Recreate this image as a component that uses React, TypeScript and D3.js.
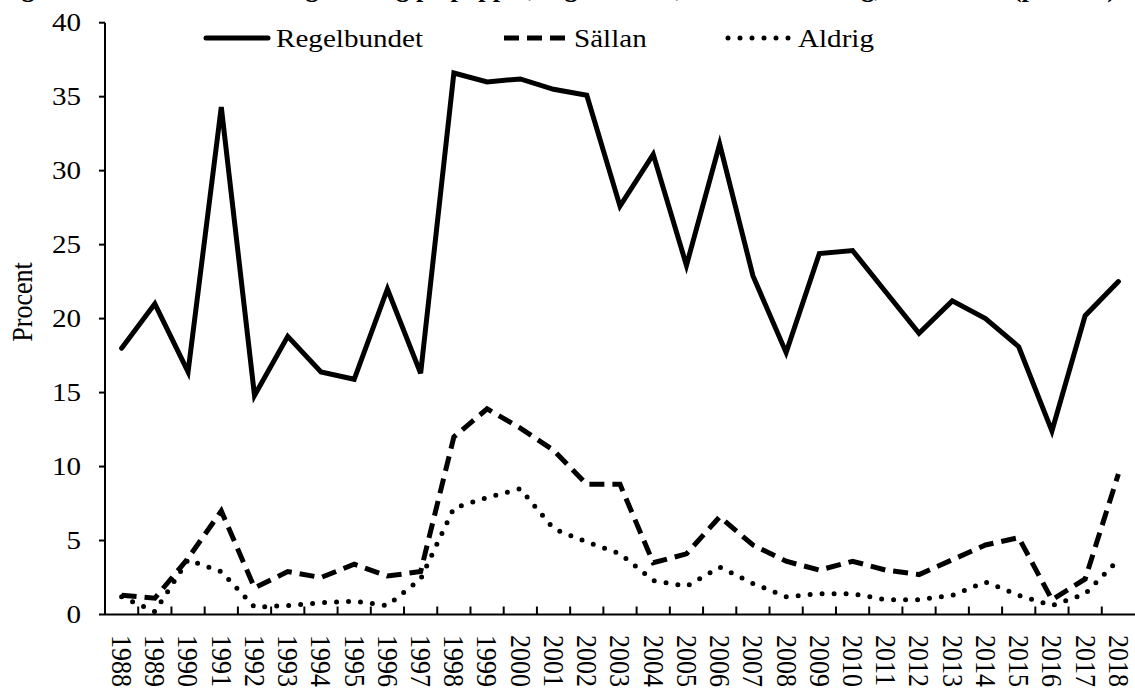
import * as d3 from "d3";
import { useEffect, useRef } from "react";

const years = [
  "1988", "1989", "1990", "1991", "1992", "1993", "1994", "1995", "1996", "1997",
  "1998", "1999", "2000", "2001", "2002", "2003", "2004", "2005", "2006", "2007",
  "2008", "2009", "2010", "2011", "2012", "2013", "2014", "2015", "2016", "2017", "2018",
];

const regelbundet = [
  18.0, 21.0, 16.4, 34.3, 14.8, 18.8, 16.4, 15.9, 22.0, 16.3,
  36.6, 36.0, 36.2, 35.5, 35.1, 27.6, 31.1, 23.6, 31.8, 22.9,
  17.7, 24.4, 24.6, 21.8, 19.0, 21.2, 20.0, 18.1, 12.4, 20.2, 22.5,
];

const sallan = [
  1.3, 1.1, 3.8, 7.0, 1.8, 2.9, 2.5, 3.4, 2.6, 2.9,
  12.0, 13.9, 12.6, 11.1, 8.8, 8.8, 3.5, 4.1, 6.6, 4.7,
  3.6, 3.0, 3.6, 3.0, 2.7, 3.7, 4.7, 5.2, 1.0, 2.4, 9.5,
];

const aldrig = [
  1.2, 0.2, 3.7, 2.9, 0.5, 0.6, 0.8, 0.9, 0.6, 2.4,
  7.2, 7.9, 8.5, 5.8, 4.9, 4.1, 2.3, 1.9, 3.2, 2.1,
  1.2, 1.4, 1.4, 1.0, 1.0, 1.3, 2.2, 1.3, 0.6, 1.4, 3.7,
];

const yTicks = [0, 5, 10, 15, 20, 25, 30, 35, 40];

const seriesNames = ["Regelbundet", "Sällan", "Aldrig"];

const title =
  "Figur 3. Andel som läser dagstidning på papper, regelbundet, sällan och aldrig, 1988–2018 (procent)";

const App = () => {
  const svgRef = useRef<SVGSVGElement>(null);

  useEffect(() => {
    const width = 1135;
    const height = 689;
    const font = "'Liberation Serif', 'Times New Roman', serif";
    const sx = 1.12; // the reference is a bit stretched horizontally

    const svg = d3.select(svgRef.current);
    svg.selectAll("*").remove();
    svg.attr("width", width).attr("height", height).style("font-family", font);

    const x = d3.scaleBand<string>().domain(years).range([105, 1135]).padding(0);
    const y = d3.scaleLinear().domain([0, 40]).range([614.5, 22.7]);
    const cx = (d: string) => (x(d) as number) + x.bandwidth() / 2;

    // title, mostly cropped off the top
    svg
      .append("text")
      .attr("x", -2)
      .attr("y", -3)
      .attr("textLength", 1118)
      .attr("lengthAdjust", "spacingAndGlyphs")
      .style("font-size", "26px")
      .style("font-weight", "bold")
      .text(title);

    // y axis
    const yAxis = svg.append("g");
    yAxis
      .append("line")
      .attr("x1", 105)
      .attr("x2", 105)
      .attr("y1", y(40))
      .attr("y2", y(0))
      .attr("stroke", "black")
      .attr("stroke-width", 2);
    yAxis
      .selectAll("line.tick")
      .data(yTicks)
      .join("line")
      .attr("class", "tick")
      .attr("x1", 99)
      .attr("x2", 105)
      .attr("y1", (d) => y(d))
      .attr("y2", (d) => y(d))
      .attr("stroke", "black")
      .attr("stroke-width", 2);
    yAxis
      .selectAll("text")
      .data(yTicks)
      .join("text")
      .attr("transform", (d) => `translate(81,${y(d)}) scale(${sx},1)`)
      .attr("text-anchor", "end")
      .attr("dy", "0.33em")
      .style("font-size", "26px")
      .text((d) => d);

    svg
      .append("text")
      .attr("transform", `translate(22,302) rotate(-90) scale(1,${sx})`)
      .attr("text-anchor", "middle")
      .attr("dy", "0.33em")
      .style("font-size", "26px")
      .text("Procent");

    // x axis
    const xAxis = svg.append("g");
    xAxis
      .append("line")
      .attr("x1", 105)
      .attr("x2", 1135)
      .attr("y1", y(0))
      .attr("y2", y(0))
      .attr("stroke", "black")
      .attr("stroke-width", 2);
    xAxis
      .selectAll("line.tick")
      .data(years.slice(1))
      .join("line")
      .attr("class", "tick")
      .attr("x1", (d) => x(d) as number)
      .attr("x2", (d) => x(d) as number)
      .attr("y1", y(0) - 8)
      .attr("y2", y(0))
      .attr("stroke", "black")
      .attr("stroke-width", 2);
    xAxis
      .selectAll("text")
      .data(years)
      .join("text")
      .attr("transform", (d) => `translate(${cx(d)},635) rotate(90) scale(1,${sx})`)
      .attr("text-anchor", "start")
      .attr("dy", "0.33em")
      .style("font-size", "26px")
      .text((d) => d);

    // lines
    const styles = [
      { dash: null, cap: "round" },
      { dash: "15 8", cap: "butt" },
      { dash: "0 12", cap: "round" },
    ];
    const values = [regelbundet, sallan, aldrig];
    const line = d3
      .line<number>()
      .x((_, i) => cx(years[i]))
      .y((d) => y(d));

    svg
      .append("g")
      .selectAll("path")
      .data(values)
      .join("path")
      .attr("d", (d) => line(d))
      .attr("fill", "none")
      .attr("stroke", "black")
      .attr("stroke-width", 5)
      .attr("stroke-linecap", (_, i) => styles[i].cap)
      .attr("stroke-dasharray", (_, i) => styles[i].dash);

    // legend
    const legendX = [206, 504, 728];
    const legend = svg
      .append("g")
      .selectAll("g")
      .data(seriesNames)
      .join("g")
      .attr("transform", (_, i) => `translate(${legendX[i]},38)`);
    legend
      .append("line")
      .attr("x1", 0)
      .attr("x2", 62)
      .attr("stroke", "black")
      .attr("stroke-width", 5)
      .attr("stroke-linecap", (_, i) => styles[i].cap)
      .attr("stroke-dasharray", (_, i) => styles[i].dash);
    legend
      .append("text")
      .attr("transform", `translate(70,0) scale(${sx},1)`)
      .attr("dy", "0.33em")
      .style("font-size", "26px")
      .text((d) => d);
  }, []);

  return (
    <svg ref={svgRef} style={{ position: "absolute", left: 0, top: 0 }}></svg>
  );
};

export default App;
